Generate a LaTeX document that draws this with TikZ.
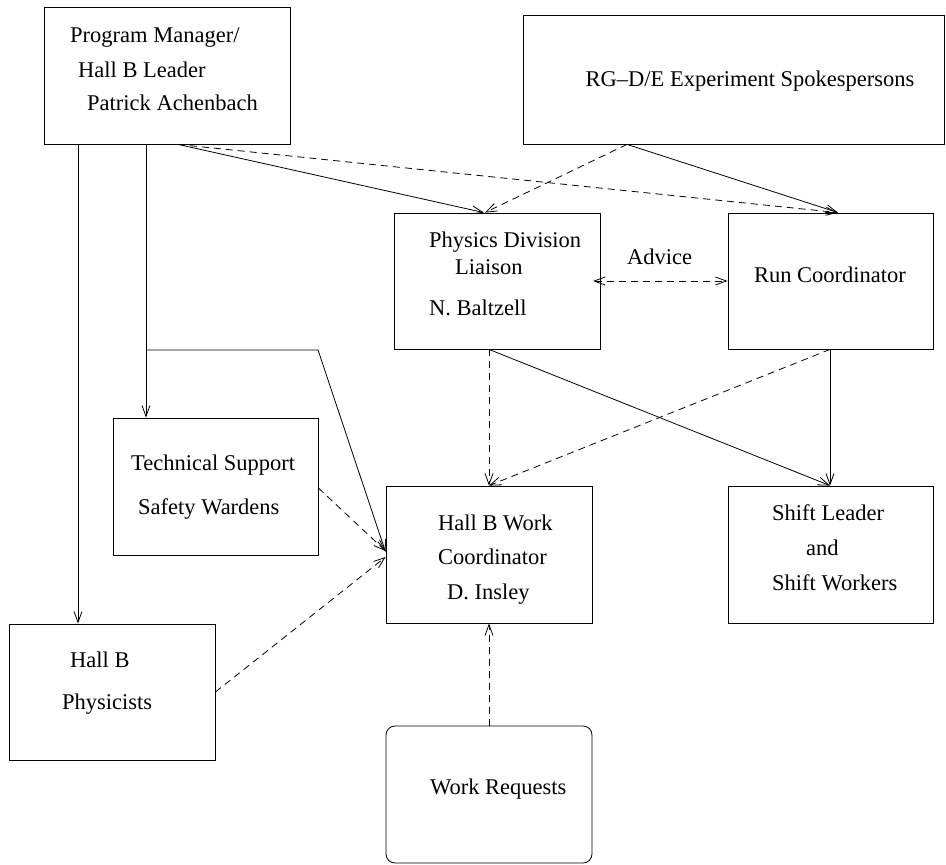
\documentclass[tikz,border=0pt]{standalone}
\usepackage{fontspec}
\setmainfont{Liberation Serif}
\usetikzlibrary{arrows.meta,calc}
\tikzset{
  box/.style={draw, line width=0.8pt, inner sep=0pt, minimum width=206pt, minimum height=137pt},
  lbl/.style={anchor=base west, inner sep=0pt, font=\fontsize{22.5}{27}\selectfont},
  con/.style={line width=0.8pt, -{Straight Barb[length=11pt,width=8pt]}},
  dsh/.style={con, dash pattern=on 7pt off 5pt},
}
\begin{document}
\begin{tikzpicture}[x=1pt,y=-1pt]
\useasboundingbox (0,0) rectangle (946,865);
% boxes
\node[box, minimum width=246pt] (pm) at (167,75.5) {};
\node[box, minimum width=421pt, minimum height=129pt] (rg) at (734,79.5) {};
\node[box, minimum height=136pt] (pdl) at (497,281) {};
\node[box, minimum width=205pt, minimum height=136pt] (rc) at (830.5,281) {};
\node[box, minimum width=205pt] (ts) at (215.5,486.5) {};
\node[box] (hbwc) at (489,554.5) {};
\node[box, minimum width=205pt] (sl) at (830.5,554.5) {};
\node[box, minimum height=136pt] (phys) at (112,692) {};
\node[box, rounded corners=9pt] (wr) at (489,794.5) {};
% texts
\node[lbl] (pm1) at (70,42) {Program Manager/};
\node[lbl] (pm2) at (78,77) {Hall B Leader};
\node[lbl] (pm3) at (87,110) {Patrick Achenbach};
\node[lbl, anchor=base] (rg1) at (750,86) {RG--D/E Experiment Spokespersons};
\node[lbl] (pdl1) at (429,247) {Physics Division};
\node[lbl] (pdl2) at (455,274) {Liaison};
\node[lbl] (pdl3) at (429,315) {N. Baltzell};
\node[lbl, anchor=base] (rc1) at (830,282) {Run Coordinator};
\node[lbl] (ts1) at (131,470) {Technical Support};
\node[lbl] (ts2) at (138,514) {Safety Wardens};
\node[lbl] (hb1) at (438,530) {Hall B Work};
\node[lbl] (hb2) at (438,564) {Coordinator};
\node[lbl] (hb3) at (447,599) {D. Insley};
\node[lbl] (sl1) at (772,520) {Shift Leader};
\node[lbl] (sl2) at (806,555) {and};
\node[lbl] (sl3) at (772,590) {Shift Workers};
\node[lbl] (ph1) at (70,667) {Hall B};
\node[lbl] (ph2) at (62,709) {Physicists};
\node[lbl] (wr1) at (430,794) {Work Requests};
\node[lbl] (adv) at (627,264) {Advice};
% connectors
\draw[con] (78,0 |- pm.south) -- (78,0 |- phys.north);
\draw[con] (146,0 |- pm.south) -- (146,0 |- ts.north);
\coordinate (br) at (146,350);
\coordinate (bend) at (318,350);
\draw[con] (br) -- (bend) -- (hbwc.west |- 0,552);
\draw[con] (178,0 |- pm.south) -- (484,0 |- pdl.north);
\draw[dsh] (178,0 |- pm.south) -- (838,0 |- rc.north);
\draw[dsh] (627,0 |- rg.south) -- (485,0 |- pdl.north);
\draw[con] (627,0 |- rg.south) -- (838,0 |- rc.north);
\draw[dsh, {Straight Barb[length=11pt,width=8pt]}-{Straight Barb[length=11pt,width=8pt]}] (593,0 |- pdl.east) -- (rc.west);
\draw[dsh] (489,0 |- pdl.south) -- (489,0 |- hbwc.north);
\draw[con] (489,0 |- pdl.south) -- (830,0 |- sl.north);
\draw[con] (830,0 |- rc.south) -- (830,0 |- sl.north);
\draw[dsh] (830,0 |- rc.south) -- (489,0 |- hbwc.north);
\draw[dsh] (ts.east |- 0,488) -- (hbwc.west |- 0,551);
\draw[dsh] (phys.east |- 0,692) -- (hbwc.west |- 0,557);
\draw[dsh] (489,0 |- wr.north) -- (489,0 |- hbwc.south);
\end{tikzpicture}
\end{document}
